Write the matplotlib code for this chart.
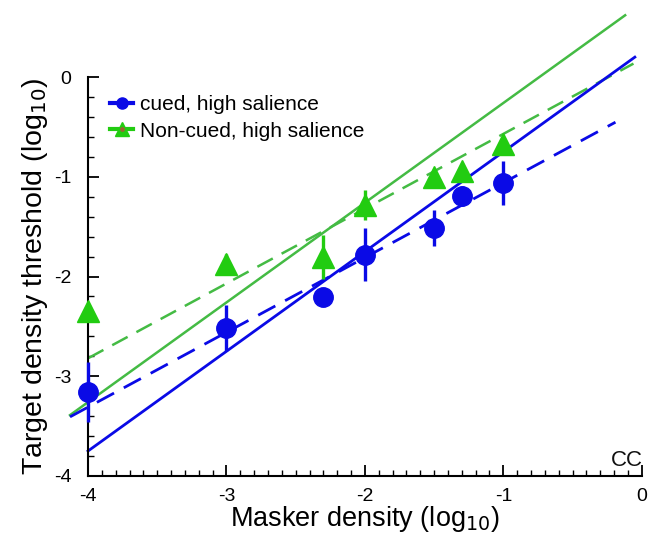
import matplotlib
matplotlib.use("Agg")
import matplotlib.pyplot as plt
from matplotlib.lines import Line2D
import numpy as np

plt.rcParams['font.family'] = ['Liberation Sans', 'DejaVu Sans']
plt.rcParams['axes.unicode_minus'] = False

# Data
masker = [-4, -3, -2.3, -2, -1.5, -1.3, -1]
cued = [-3.16, -2.52, -2.21, -1.78, -1.51, -1.19, -1.06]
cued_err = [0.30, 0.23, 0.04, 0.27, 0.18, 0.10, 0.22]
noncued = [-2.35, -1.87, -1.80, -1.28, -1.00, -0.94, -0.67]
noncued_err = [0.04, 0.10, 0.22, 0.15, 0.06, 0.06, 0.06]

# Fitted lines: (slope, intercept, x_start, x_end)
cued_solid = (1.0, 0.25, -4.0, -0.05)
cued_dashed = (0.75, -0.31, -4.13, -0.19)
non_solid = (1.0, 0.74, -4.13, -0.12)
non_dashed = (0.75, 0.18, -4.0, -0.06)

BLUE = '#0a0ae6'
GREEN_M = '#22cc11'
GREEN_L = '#44bb44'

fig = plt.figure(figsize=(6.53, 5.39), dpi=100)
ax = fig.add_axes([0.1348, 0.117, 0.848, 0.740])

def fitline(p, color, ls, lw=2.0):
    s, b, x0, x1 = p
    xs = np.array([x0, x1])
    ax.plot(xs, s * xs + b, color=color, ls=ls, lw=lw, clip_on=False,
            dashes=(7, 4) if ls == '--' else (None, None), zorder=2)

fitline(non_solid, GREEN_L, '-', 1.8)
fitline(non_dashed, GREEN_L, '--', 1.8)
fitline(cued_solid, BLUE, '-', 2.0)
fitline(cued_dashed, BLUE, '--', 2.0)

ax.errorbar(masker, noncued, yerr=noncued_err, fmt='^', color=GREEN_M,
            ms=16, mec=GREEN_M, elinewidth=2.4, capsize=0, clip_on=False, zorder=4)
ax.errorbar(masker, cued, yerr=cued_err, fmt='o', color=BLUE,
            ms=14, mec=BLUE, elinewidth=2.4, capsize=0, clip_on=False, zorder=5)

ax.set_xlim(-4, 0)
ax.set_ylim(-4, 0)
ax.spines['top'].set_visible(False)
ax.spines['right'].set_visible(False)
ax.spines['left'].set_linewidth(1.5)
ax.spines['bottom'].set_linewidth(1.5)

ax.set_xticks([-4, -3, -2, -1, 0])
ax.set_xticks(np.arange(-4, 0.001, 0.1), minor=True)
ax.set_yticks([-4, -3, -2, -1, 0])
ax.set_yticks(np.arange(-4, 0.001, 0.2), minor=True)
ax.tick_params(which='major', direction='in', length=8, width=1.3, labelsize=14)
ax.tick_params(which='minor', direction='in', length=4, width=1.0)
ax.tick_params(axis='x', pad=9)
ax.tick_params(axis='y', pad=12)

ax.set_xlabel('Masker density (log$_{10}$)', fontsize=19.5, labelpad=-1)
ax.set_ylabel('Target density threshold (log$_{10}$)', fontsize=20.5, labelpad=3)

ax.text(0.01, -3.95, 'CC', fontsize=16, ha='right', va='bottom', color='#111111')

h_cued = Line2D([0], [0], color=BLUE, lw=3, marker='o', ms=8, mec=BLUE)
h_non = (Line2D([0], [0], color=GREEN_M, lw=3, marker='^', ms=10, mec=GREEN_M,
                mfc=GREEN_M),
         Line2D([0], [0], ls='none', marker='o', ms=2.5, color='#996633'))
leg = ax.legend([h_cued, h_non], ['cued, high salience', 'Non-cued, high salience'],
                loc='upper left', bbox_to_anchor=(0.025, 0.975), frameon=False,
                fontsize=15, handlelength=1.1, handletextpad=0.35,
                labelspacing=0.35, borderaxespad=0)

fig.savefig('out.png', dpi=100)
